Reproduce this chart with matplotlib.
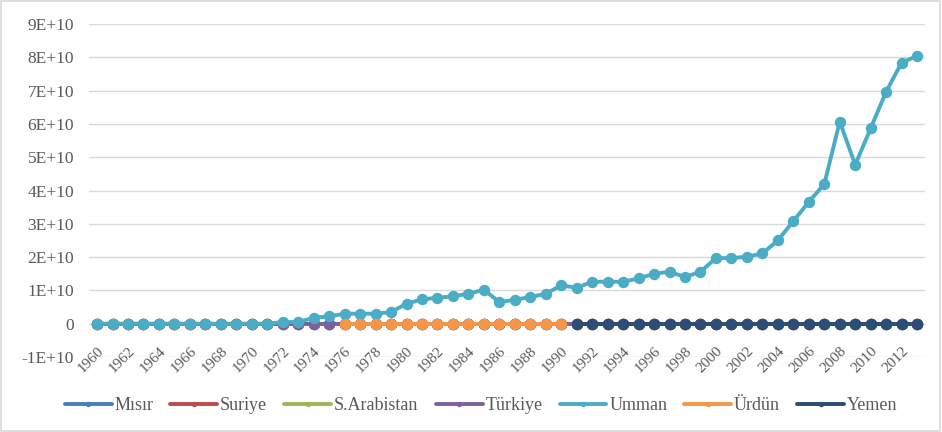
import numpy as np
import matplotlib
matplotlib.use('Agg')
from matplotlib import pyplot as plt
from matplotlib.patches import Rectangle

plt.rcParams['font.family'] = ['Liberation Serif', 'DejaVu Serif']

years = [str(y) for y in range(1960, 2014)]
tick_labels = [y if int(y) % 2 == 0 else '' for y in years]

# Umman (1960-2013)
umman = [0, 0, 0, 0, 0, 0, 0, 0, 0, 0, 0, 0,
         0.5e9, 0.5e9, 1.8e9, 2.2e9, 3.0e9, 3.0e9, 3.0e9, 3.5e9,
         6.0e9, 7.3e9, 7.8e9, 8.2e9, 9.0e9, 10.2e9, 6.5e9, 7.2e9, 8.0e9, 9.0e9,
         11.5e9, 10.8e9, 12.6e9, 12.6e9, 12.6e9, 13.6e9, 15.0e9, 15.6e9, 14.0e9, 15.6e9,
         19.7e9, 19.7e9, 20.1e9, 21.1e9, 25.0e9, 30.8e9, 36.6e9, 41.9e9, 60.7e9, 47.7e9,
         58.7e9, 69.7e9, 78.4e9, 80.4e9]
misir = [0] * 54
suriye = [0] * 54
s_arabistan = [0] * 54
turkiye = [0] * 54
# Ürdün 1976-1990, Yemen 1991-2013
urdun = [np.nan] * 16 + [0] * 15 + [np.nan] * 23
yemen = [np.nan] * 31 + [0] * 23

series = [('Mısır', misir, '#4a7ebb'),
          ('Suriye', suriye, '#be4b48'),
          ('S.Arabistan', s_arabistan, '#98b954'),
          ('Türkiye', turkiye, '#7d60a0'),
          ('Umman', umman, '#4bacc6'),
          ('Ürdün', urdun, '#f79646'),
          ('Yemen', yemen, '#2c4d75')]

fig = plt.figure(figsize=(9.42, 4.32), dpi=100)
fig.patches.append(Rectangle((0.001, 0.002), 0.997, 0.996, transform=fig.transFigure,
                             fill=False, edgecolor='#d9d9d9', linewidth=1.2))
ax = fig.add_axes([0.0948, 0.1736, 0.887, 0.7708])

x = np.arange(len(years))
for name, vals, col in series:
    ax.plot(x, vals, color=col, linewidth=2.8, marker='o', markersize=7.2,
            label=name, solid_capstyle='round')

ax.set_xlim(-0.5, len(years) - 0.5)
ax.set_ylim(-1e10, 9e10)
ax.set_yticks(np.arange(-1e10, 9.1e10, 1e10))
ax.set_yticklabels(['-1E+10', '0', '1E+10', '2E+10', '3E+10', '4E+10', '5E+10',
                    '6E+10', '7E+10', '8E+10', '9E+10'])
ax.grid(axis='y', color='#d9d9d9', linewidth=1)
ax.set_axisbelow(True)
for s in ax.spines.values():
    s.set_visible(False)
ax.tick_params(axis='y', length=0, pad=11, labelsize=12.5, labelcolor='#595959')

ax.set_xticks(x)
ax.set_xticklabels(tick_labels, rotation=45, ha='right', va='top',
                   rotation_mode='anchor', fontsize=11, color='#595959')
ax.tick_params(axis='x', length=0, pad=-9)

ax.legend(loc='center', bbox_to_anchor=(0.5106, 0.0602), bbox_transform=fig.transFigure,
          ncol=7, frameon=False, fontsize=13, handlelength=2.6, markerscale=0.4,
          columnspacing=0.95, handletextpad=0.15, labelcolor='#595959')

fig.savefig('out.png', dpi=100)
